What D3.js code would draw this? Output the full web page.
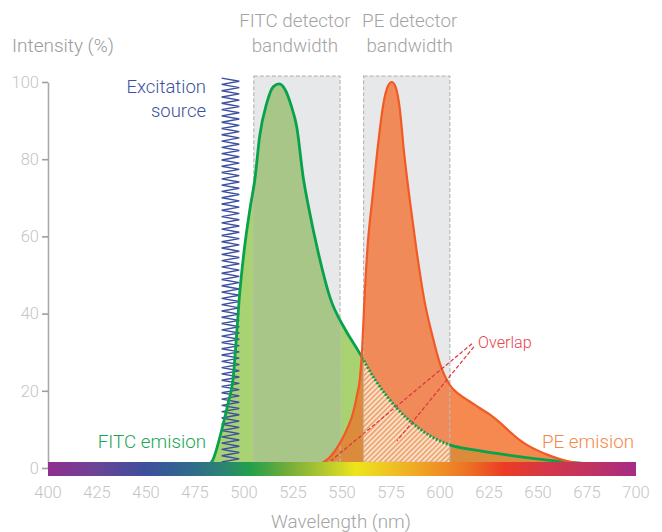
<!DOCTYPE html>
<html><head><meta charset="utf-8">
<script src="https://cdn.jsdelivr.net/npm/d3@7/dist/d3.min.js"></script>
<style>
body{margin:0;background:#fff}
svg{display:block;font-family:Roboto,"Noto Sans",sans-serif;font-weight:300}
</style>
</head><body>
<svg id="chart" width="662" height="532"></svg>
<script>
// ---------- data ----------
const fitcWl  = [480, 484, 489, 492, 494.4, 496, 497.5, 500, 503, 505.6, 508, 511.6, 515, 518, 521, 524, 526.9, 530.3, 533, 537.8, 544, 551.5, 558, 567, 578, 590, 605, 620, 634, 656, 680, 700];
const fitcVal = [0, 2, 10.6, 17, 23, 33, 43.5, 56, 67, 75, 86, 94.5, 98.8, 99.5, 98, 94, 88.4, 75, 67.5, 56, 44, 36, 30.6, 22.8, 15.5, 10, 6, 4.5, 3.4, 2, 1, 0.5];

const peWl  = [530, 536, 540, 544, 549, 553, 555.6, 557.5, 559.2, 560.3, 561.3, 563, 565.3, 568, 571, 573.5, 575.5, 577.5, 579.5, 581.6, 584.7, 588, 592, 596, 600, 605, 610, 615, 620, 625, 630, 635, 640, 645, 650, 655, 660, 670, 680, 690];
const peVal = [0, 0.6, 1.3, 2.9, 6.5, 10.6, 14.2, 18.5, 23.5, 31, 42, 57, 69, 82, 94, 99, 100, 98.5, 93, 82, 69, 56.5, 43.5, 34.5, 27, 21.5, 19, 17.3, 15.6, 14, 12, 9.7, 7.5, 5.8, 4.5, 3.4, 2.5, 1.2, 0.3, 0];

const xTicks = [400, 425, 450, 475, 500, 525, 550, 575, 600, 625, 650, 675, 700];
const yTicks = [0, 20, 40, 60, 80, 100];

const fitcBand = [505, 549];
const peBand = [561, 605];
const bandTop = 101.5;
const excitationBand = [488.6, 497.6];
const excitationTop = 101;

const spectrumWl = [400, 425, 450, 475, 490, 503, 520, 540, 557, 575, 595, 615, 633, 655, 680, 700];
const spectrumCol = ["#8f2f8e", "#6b4496", "#3c4f9d", "#2f6d8b", "#2b8571", "#22a04b", "#6aaa3a", "#b0c631", "#ede51b", "#efc222", "#ef9a25", "#ed6f25", "#eb3b24", "#d33749", "#bd3266", "#a62c86"];

// overlap arrows: [fromWl, fromVal, toWl, toVal]
const arrows = [[616.3, 32.2, 544.4, 1.9], [617.3, 31.4, 578, 7]];

// ---------- setup ----------
const svg = d3.select("#chart");
const x = d3.scaleLinear().domain([400, 700]).range([48, 636]);
const y = d3.scaleLinear().domain([0, 100]).range([468, 82]);
const barTop = y(0) - 6, barH = 14;

const fitc = fitcWl.map((w, i) => [w, fitcVal[i]]);
const pe = peWl.map((w, i) => [w, peVal[i]]);

const area = d3.area().x(d => x(d[0])).y0(y(0)).y1(d => y(d[1])).curve(d3.curveMonotoneX);
const line = d3.line().x(d => x(d[0])).y(d => y(d[1])).curve(d3.curveMonotoneX);

const defs = svg.append("defs");
defs.append("clipPath").attr("id", "fitcClip").append("path").attr("d", area(fitc));
function boxClip(id, band) {
  defs.append("clipPath").attr("id", id).append("rect")
    .attr("x", x(band[0])).attr("y", 0)
    .attr("width", x(band[1]) - x(band[0])).attr("height", 532);
}
boxClip("fitcBox", fitcBand);
boxClip("peBox", peBand);
const outPe = defs.append("clipPath").attr("id", "outPe");
outPe.append("rect").attr("x", 0).attr("y", 0).attr("width", x(peBand[0])).attr("height", 532);
outPe.append("rect").attr("x", x(peBand[1])).attr("y", 0).attr("width", 662 - x(peBand[1])).attr("height", 532);

const pat = defs.append("pattern").attr("id", "hatch").attr("patternUnits", "userSpaceOnUse")
  .attr("width", 3.6).attr("height", 3.6).attr("patternTransform", "rotate(45)");
pat.append("rect").attr("width", 3.6).attr("height", 3.6).attr("fill", "#fce2cb");
pat.append("line").attr("x1", 0.9).attr("y1", 0).attr("x2", 0.9).attr("y2", 3.6)
  .attr("stroke", "#eea36d").attr("stroke-width", 1.7);

const grad = defs.append("linearGradient").attr("id", "spec").attr("gradientUnits", "userSpaceOnUse")
  .attr("x1", x(400)).attr("x2", x(700)).attr("y1", 0).attr("y2", 0);
spectrumWl.forEach((w, i) => grad.append("stop").attr("offset", (w - 400) / 300).attr("stop-color", spectrumCol[i]));

// ---------- detector boxes ----------
[fitcBand, peBand].forEach(b => {
  svg.append("rect").attr("x", x(b[0])).attr("y", y(bandTop))
    .attr("width", x(b[1]) - x(b[0])).attr("height", barTop - y(bandTop))
    .attr("fill", "#e7e8ea");
});

// ---------- fills ----------
svg.append("path").attr("d", area(fitc)).attr("fill", "#a9d272");
svg.append("path").attr("d", area(fitc)).attr("fill", "#a7c688").attr("clip-path", "url(#fitcBox)");
svg.append("path").attr("d", area(pe)).attr("fill", "#f5894f");
svg.append("path").attr("d", area(pe)).attr("fill", "#f08b59").attr("clip-path", "url(#peBox)");
svg.append("g").attr("clip-path", "url(#fitcClip)")
  .append("path").attr("d", area(pe)).attr("fill", "#dc8a3c");
svg.append("g").attr("clip-path", "url(#fitcClip)")
  .append("g").attr("clip-path", "url(#peBox)")
  .append("path").attr("d", area(pe)).attr("fill", "url(#hatch)");

// box outlines
[fitcBand, peBand].forEach(b => {
  svg.append("rect").attr("x", x(b[0])).attr("y", y(bandTop))
    .attr("width", x(b[1]) - x(b[0])).attr("height", barTop - y(bandTop))
    .attr("fill", "none").attr("stroke", "#b9b9b9").attr("stroke-width", 1.2)
    .attr("stroke-dasharray", "4,2");
});

// ---------- excitation zigzag ----------
{
  const y0 = y(excitationTop), y1 = barTop;
  const n = 122;
  const pts = [];
  for (let i = 0; i <= n; i++) {
    pts.push([x(excitationBand[i % 2]), y0 + (y1 - y0) * i / n]);
  }
  svg.append("path").attr("d", d3.line()(pts)).attr("fill", "none")
    .attr("stroke", "#3c4fa0").attr("stroke-width", 1.4);
}

// ---------- strokes ----------
svg.append("path").attr("d", line(fitc)).attr("fill", "none").attr("stroke", "#08a24d")
  .attr("stroke-width", 2.8).attr("clip-path", "url(#outPe)");
svg.append("path").attr("d", line(fitc)).attr("fill", "none").attr("stroke", "#08a24d")
  .attr("stroke-width", 2.8).attr("stroke-dasharray", "2,1.6").attr("clip-path", "url(#peBox)");
svg.append("path").attr("d", line(pe)).attr("fill", "none").attr("stroke", "#f15a24")
  .attr("stroke-width", 2.2);

// ---------- spectrum bar ----------
svg.append("rect").attr("x", x(400)).attr("y", barTop).attr("width", x(700) - x(400))
  .attr("height", barH).attr("fill", "url(#spec)");

// ---------- axes ----------
const yAxis = svg.append("g").attr("transform", `translate(${x(400)},0)`)
  .call(d3.axisLeft(y).tickValues(yTicks).tickSize(6).tickSizeOuter(0).tickPadding(3));
yAxis.select(".domain").attr("stroke", "#ababab").attr("stroke-width", 1.6);
yAxis.selectAll(".tick line").attr("stroke", "#9e9e9e").attr("stroke-width", 1.6);
yAxis.selectAll(".tick text").attr("fill", "#c4c4c4").attr("font-size", 16.5)
  .attr("font-family", "Roboto, sans-serif").attr("font-weight", 300);
yAxis.lower();

svg.append("g").selectAll("text").data(xTicks).join("text")
  .attr("x", d => x(d)).attr("y", 498).attr("text-anchor", "middle")
  .attr("fill", "#c4c4c4").attr("font-size", 16.5).text(d => d);

// ---------- arrows ----------
svg.append("g").selectAll("line").data(arrows).join("line")
  .attr("x1", d => x(d[0])).attr("y1", d => y(d[1]))
  .attr("x2", d => x(d[2])).attr("y2", d => y(d[3]))
  .attr("stroke", "#e0323f").attr("stroke-width", 1.2).attr("stroke-dasharray", "4,2");

// ---------- labels ----------
function label(t, px, py, anchor, col, size) {
  svg.append("text").attr("x", px).attr("y", py).attr("text-anchor", anchor)
    .attr("fill", col).attr("font-size", size).text(t);
}
const grey = "#a3a3a3";
label("Intensity (%)", 12, 52, "start", "#9b9b9b", 19);
label("FITC detector", (x(fitcBand[0]) + x(fitcBand[1])) / 2 - 2, 27, "middle", grey, 18.8);
label("bandwidth", (x(fitcBand[0]) + x(fitcBand[1])) / 2 - 2, 52, "middle", grey, 18.8);
label("PE detector", (x(peBand[0]) + x(peBand[1])) / 2 + 3, 27, "middle", grey, 18.8);
label("bandwidth", (x(peBand[0]) + x(peBand[1])) / 2 + 3, 52, "middle", grey, 18.8);
label("Excitation", 206, 93, "end", "#3d50a1", 18.5);
label("source", 206, 117, "end", "#3d50a1", 18.5);
label("FITC emision", 206, 448, "end", "#1ca552", 18.8);
label("PE emision", 634, 448, "end", "#f4894a", 18.8);
label("Overlap", 478, 348, "start", "#e8454f", 16.2);
label("Wavelength (nm)", 341, 528, "middle", "#a3a3a3", 18.8);
</script>
</body></html>
